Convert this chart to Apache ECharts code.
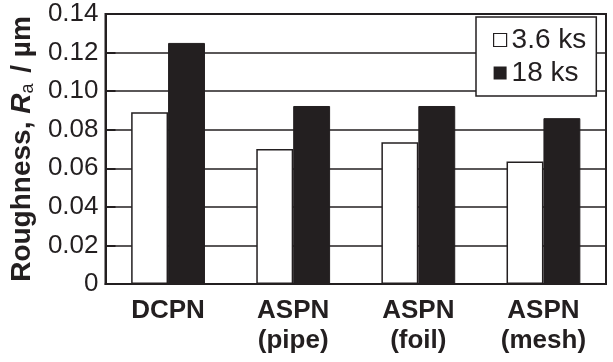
<!DOCTYPE html>
<html><head><meta charset="utf-8">
<script src="https://cdn.jsdelivr.net/npm/echarts@6/dist/echarts.min.js"></script>
<style>html,body{margin:0;padding:0;background:#fff}#c{width:613px;height:362px}</style>
</head><body><div id="c"></div>
<script>
const categories = ['DCPN', 'ASPN\n(pipe)', 'ASPN\n(foil)', 'ASPN\n(mesh)'];
const seriesNames = ['3.6 ks', '18 ks'];
const values36 = [0.089, 0.070, 0.0735, 0.0635];
const values18 = [0.125, 0.0923, 0.0923, 0.086];
const yTickLabels = ['0', '0.02', '0.04', '0.06', '0.08', '0.10', '0.12', '0.14'];

const ink = '#231f20';
const font = '"Liberation Sans", Arial, Helvetica, sans-serif';
const chart = echarts.init(document.getElementById('c'), null, {renderer: 'canvas'});
chart.setOption({
  animation: false,
  backgroundColor: '#fff',
  textStyle: {fontFamily: font, color: ink},
  grid: {left: 103, right: 7, top: 14, bottom: 78, show: true, borderColor: ink, borderWidth: 2, backgroundColor: 'transparent'},
  legend: {
    orient: 'vertical', left: 476, top: 17,
    padding: [9, 10, 9, 17], itemGap: 5, itemWidth: 13, itemHeight: 13, itemTextGap: 7,
    backgroundColor: '#fff', borderColor: ink, borderWidth: 1.5, borderRadius: 0,
    icon: 'rect',
    textStyle: {fontSize: 28, color: ink, fontFamily: font, lineHeight: 28},
    data: [
      {name: seriesNames[0], itemStyle: {color: '#fff', borderColor: ink, borderWidth: 1.2}},
      {name: seriesNames[1], itemStyle: {color: ink, borderColor: ink, borderWidth: 0}}
    ]
  },
  xAxis: {
    type: 'category', data: categories,
    axisLine: {lineStyle: {color: ink, width: 2}},
    axisTick: {inside: true, length: 8, lineStyle: {color: ink, width: 1.5}},
    axisLabel: {fontSize: 26, fontWeight: 'bold', color: ink, fontFamily: font, lineHeight: 30, margin: 12}
  },
  yAxis: {
    type: 'value', min: 0, max: 0.14, interval: 0.02,
    name: '{b|Roughness, }{i|R}{s|a}{b| / µm}',
    nameLocation: 'middle', nameRotate: 90, nameGap: 58,
    nameTextStyle: {
      rich: {
        b: {fontSize: 28, fontWeight: 'bold', fontFamily: font, color: ink, lineHeight: 30},
        i: {fontSize: 28, fontWeight: 'bold', fontStyle: 'italic', fontFamily: font, color: ink, lineHeight: 30},
        s: {fontSize: 18, fontWeight: 'normal', fontFamily: font, color: ink, lineHeight: 20, verticalAlign: 'bottom', padding: [0, 3, 0, 0]}
      }
    },
    axisLine: {show: true, lineStyle: {color: ink, width: 2}},
    axisTick: {show: true, inside: true, length: 10, lineStyle: {color: ink, width: 2}},
    splitLine: {show: true, lineStyle: {color: ink, width: 1.5}},
    axisLabel: {
      fontSize: 26, color: ink, fontFamily: font, margin: 7,
      formatter: function (v) { return yTickLabels[Math.round(v / 0.02)]; }
    }
  },
  series: [
    {name: seriesNames[0], type: 'bar', data: values36, barGap: '0%', barCategoryGap: '41%',
     itemStyle: {color: '#fff', borderColor: ink, borderWidth: 1.5}},
    {name: seriesNames[1], type: 'bar', data: values18, barGap: '0%', barCategoryGap: '41%',
     itemStyle: {color: ink, borderColor: ink, borderWidth: 1}}
  ]
});
</script></body></html>
